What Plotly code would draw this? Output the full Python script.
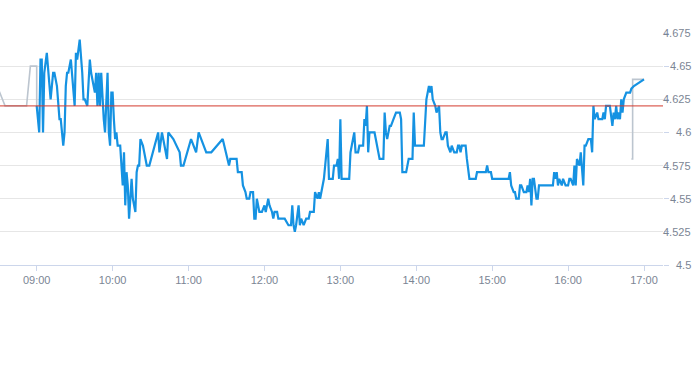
import plotly.graph_objects as go

DAY = "2024-01-02 "

# Main session (blue)
times = [
    "09:00","09:02","09:03","09:04","09:05","09:06","09:08","09:09","09:11","09:13","09:14","09:16",
    "09:18","09:19","09:21","09:22","09:23","09:24","09:25","09:27","09:28","09:30","09:31","09:32",
    "09:34","09:36","09:37","09:38","09:40","09:42","09:43","09:45","09:46","09:47","09:48","09:49",
    "09:50","09:51","09:52","09:53","09:54","09:56","09:57","09:58","09:59",
    "10:00","10:01","10:02","10:03","10:04","10:05","10:06","10:07","10:08","10:09","10:10","10:11",
    "10:12","10:13","10:15","10:16","10:18","10:19","10:20","10:21","10:22","10:24","10:27","10:29",
    "10:36","10:37","10:39","10:40","10:43","10:44","10:48","10:53","10:54","10:56",
    "11:02","11:06","11:08","11:14","11:18","11:27","11:32","11:33","11:38","11:39","11:42","11:43",
    "11:45","11:46","11:48","11:49","11:51","11:52","11:53","11:54","11:56","11:58",
    "12:00","12:01","12:03","12:04","12:06","12:07","12:08","12:10","12:11","12:16","12:19","12:21",
    "12:22","12:23","12:24","12:25","12:27","12:28","12:29","12:31","12:33","12:35","12:36","12:39",
    "12:40","12:42","12:43","12:44","12:46","12:47","12:48","12:50","12:51","12:54","12:55","12:57",
    "12:58","12:59",
    "13:00","13:01","13:07","13:08","13:10","13:11","13:12","13:14","13:15","13:18","13:19","13:20",
    "13:21","13:22","13:23","13:27","13:28","13:30","13:31","13:34","13:35","13:36","13:37","13:39",
    "13:40","13:42","13:44","13:47","13:48","13:49","13:52","13:54","13:57","13:58","13:59",
    "14:06","14:07","14:08","14:10","14:11","14:12","14:13","14:15","14:16","14:18","14:19","14:20",
    "14:21","14:23","14:24","14:25","14:27","14:28","14:30","14:32","14:33","14:34","14:35","14:36",
    "14:39","14:40","14:42","14:47","14:48","14:55","14:56","14:57","14:59",
    "15:00","15:13","15:14","15:15","15:17","15:18","15:19","15:21","15:22","15:23","15:25","15:27",
    "15:28","15:29","15:30","15:31","15:32","15:33","15:35","15:36","15:37","15:48","15:49","15:50",
    "15:51","15:52","15:53","15:55","15:56","15:58",
    "16:00","16:01","16:02","16:04","16:05","16:06","16:07","16:09","16:10","16:11","16:12","16:13",
    "16:14","16:16","16:18","16:19","16:20","16:21","16:23","16:24","16:27","16:28","16:29","16:30",
    "16:33","16:35","16:36","16:37","16:38","16:39","16:40","16:41","16:42","16:43","16:44","16:46",
    "16:49","16:50","16:52","17:00",
]
prices = [
    4.62,4.60,4.655,4.655,4.60,4.645,4.66,4.65,4.625,4.645,4.645,4.635,
    4.61,4.61,4.59,4.60,4.635,4.645,4.645,4.655,4.645,4.62,4.66,4.655,
    4.67,4.645,4.625,4.625,4.62,4.655,4.645,4.635,4.63,4.645,4.62,4.645,
    4.62,4.645,4.625,4.61,4.60,4.645,4.60,4.59,4.63,
    4.63,4.61,4.595,4.60,4.59,4.59,4.59,4.575,4.56,4.585,4.545,4.57,
    4.56,4.535,4.565,4.55,4.54,4.57,4.575,4.575,4.595,4.59,4.575,4.575,
    4.60,4.585,4.60,4.595,4.58,4.60,4.595,4.585,4.575,4.575,
    4.595,4.585,4.60,4.585,4.585,4.595,4.575,4.58,4.58,4.57,4.57,4.56,
    4.555,4.55,4.55,4.555,4.555,4.535,4.535,4.55,4.54,4.54,
    4.545,4.54,4.55,4.545,4.54,4.535,4.54,4.54,4.535,4.535,4.53,4.53,
    4.545,4.53,4.525,4.53,4.545,4.53,4.535,4.53,4.535,4.535,4.54,4.54,
    4.555,4.55,4.555,4.55,4.56,4.565,4.575,4.595,4.565,4.565,4.575,4.575,
    4.58,4.565,
    4.61,4.565,4.565,4.585,4.595,4.60,4.585,4.585,4.59,4.59,4.61,4.605,
    4.62,4.585,4.60,4.60,4.595,4.585,4.58,4.58,4.615,4.60,4.595,4.605,
    4.605,4.61,4.615,4.615,4.61,4.57,4.57,4.58,4.58,4.615,4.59,
    4.59,4.61,4.625,4.635,4.63,4.635,4.625,4.62,4.615,4.62,4.60,4.595,
    4.595,4.60,4.60,4.59,4.585,4.59,4.585,4.585,4.59,4.59,4.585,4.59,
    4.59,4.58,4.565,4.565,4.57,4.57,4.575,4.57,4.57,
    4.565,4.565,4.57,4.56,4.555,4.555,4.55,4.55,4.56,4.56,4.555,4.555,
    4.56,4.555,4.565,4.545,4.565,4.565,4.55,4.55,4.56,4.56,4.57,4.565,
    4.57,4.56,4.565,4.56,4.565,4.56,
    4.56,4.565,4.565,4.56,4.575,4.56,4.58,4.575,4.585,4.575,4.56,4.59,
    4.59,4.595,4.595,4.585,4.62,4.61,4.615,4.61,4.61,4.615,4.61,4.62,
    4.62,4.605,4.615,4.61,4.62,4.61,4.615,4.61,4.625,4.615,4.625,4.63,
    4.63,4.633,4.635,4.64,
]

# Pre / post session (grey)
pre_times = ["08:30", "08:35", "08:52", "08:55", "09:00", "09:00"]
pre_prices = [4.632, 4.62, 4.62, 4.65, 4.65, 4.62]
post_times = ["16:50", "16:51", "16:51", "17:00"]
post_prices = [4.58, 4.58, 4.64, 4.64]

ref_price = 4.62

y_ticks = [4.5, 4.525, 4.55, 4.575, 4.6, 4.625, 4.65, 4.675]
y_labels = ["4.5", "4.525", "4.55", "4.575", "4.6", "4.625", "4.65", "4.675"]
x_ticks = ["09:00", "10:00", "11:00", "12:00", "13:00", "14:00", "15:00", "16:00", "17:00"]

def dt(lst):
    return [DAY + t for t in lst]

GREY = "#bcc5cf"
BLUE = "#1592e2"
LABEL = "#7b8594"
FONT = "Liberation Sans, Arial, sans-serif"

fig = go.Figure()
fig.add_trace(go.Scatter(x=dt(pre_times), y=pre_prices, mode="lines",
                         line=dict(color=GREY, width=1.6), hoverinfo="skip", showlegend=False))
fig.add_trace(go.Scatter(x=dt(post_times), y=post_prices, mode="lines",
                         line=dict(color=GREY, width=1.6), hoverinfo="skip", showlegend=False))
fig.add_trace(go.Scatter(x=dt(times), y=prices, mode="lines",
                         line=dict(color=BLUE, width=2.2), showlegend=False))

fig.add_shape(type="line", xref="x domain", x0=0, x1=1, yref="y", y0=ref_price, y1=ref_price,
              line=dict(color="#d33a2c", width=1))

# right-aligned y labels at the right edge of the figure
for v, lab in zip(y_ticks, y_labels):
    fig.add_annotation(x=1, xref="paper", xanchor="right", xshift=30,
                       y=v, yref="y", yanchor="middle",
                       text=lab, showarrow=False,
                       font=dict(family=FONT, size=11, color=LABEL))

W, H = 693, 365

fig.update_layout(
    width=W, height=H,
    margin=dict(l=0, r=30, t=33, b=100, autoexpand=False),
    paper_bgcolor="white", plot_bgcolor="white",
    font=dict(family=FONT, size=11, color=LABEL),
    xaxis=dict(
        type="date",
        range=[DAY + "08:31", DAY + "17:15"],
        tickvals=dt(x_ticks), ticktext=x_ticks,
        ticks="outside", ticklen=5, tickcolor="#ccd6eb",
        showline=True, linecolor="#ccd6eb", linewidth=1,
        showgrid=False, zeroline=False, automargin=False,
        tickfont=dict(size=11, color=LABEL),
    ),
    yaxis=dict(
        side="right",
        range=[4.5, 4.675],
        tickvals=y_ticks, showticklabels=False,
        ticks="outside", ticklen=5, tickcolor="#ccd6eb",
        showgrid=True, gridcolor="#e6e6e6", gridwidth=1,
        showline=False, zeroline=False, automargin=False,
    ),
)

fig.write_html("out.html", config={"displayModeBar": False},
               post_script="document.body.style.margin='0';")
